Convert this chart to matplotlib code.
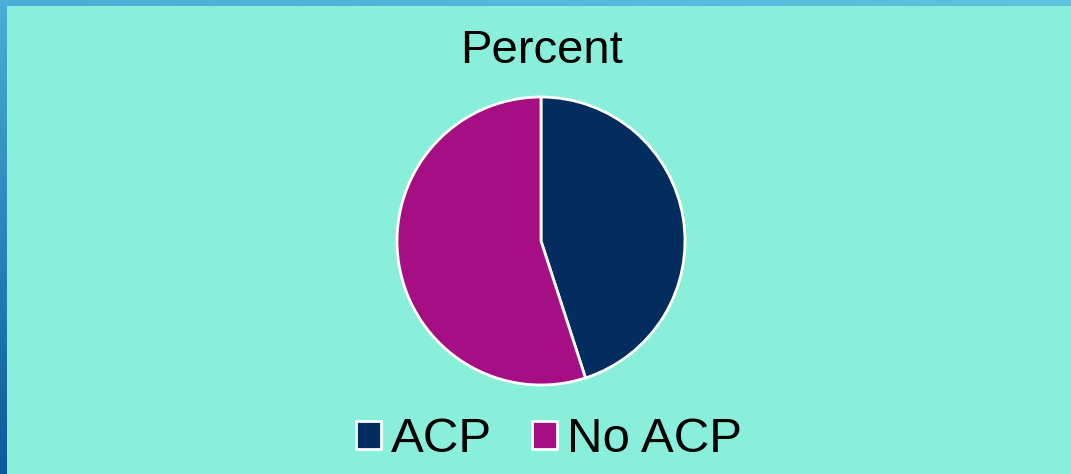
import numpy as np
import matplotlib
matplotlib.use("Agg")
import matplotlib.pyplot as plt
from matplotlib.patches import Patch, Rectangle

# Share of patients with / without an advance care plan
categories = ["ACP", "No ACP"]
percent = [45, 55]
colors = ["#042D5F", "#A50F83"]
title = "Percent"

W, H = 1071, 474
DPI = 100
plt.rcParams["font.family"] = ["Liberation Sans", "DejaVu Sans"]

fig = plt.figure(figsize=(W / DPI, H / DPI), dpi=DPI)

# Blue gradient frame behind the panel
bg = fig.add_axes([0, 0, 1, 1])
yy, xx = np.mgrid[0:1:200j, 0:1:400j]
top = np.array([0x4A, 0xAE, 0xD6]) / 255
top_r = np.array([0x5C, 0xC4, 0xE2]) / 255
bot = np.array([0x0B, 0x5A, 0x9A]) / 255
t = yy[..., None]
s = xx[..., None]
row_top = top * (1 - s) + top_r * s
grad = row_top * (1 - t) + bot * t
bg.imshow(grad, extent=[0, 1, 0, 1], aspect="auto", origin="upper")
bg.add_patch(Rectangle((7 / W, 0), 1 - 7 / W, 1 - 6 / H,
                       facecolor="#89EFDB", edgecolor="none"))
bg.set_xlim(0, 1)
bg.set_ylim(0, 1)
bg.axis("off")

# Pie
cx, cy, r = 541, 241, 144
ax = fig.add_axes([(cx - r) / W, (H - cy - r) / H, 2 * r / W, 2 * r / H])
ax.pie(percent, colors=colors, startangle=90, counterclock=False,
       wedgeprops=dict(edgecolor="white", linewidth=2))
ax.set_xlim(-1.0, 1.0)
ax.set_ylim(-1.0, 1.0)
ax.axis("off")

fig.text(cx / W, (H - 63) / H, title, ha="center", va="baseline",
         fontsize=34, color="black")

handles = [Patch(facecolor=c, edgecolor="white", linewidth=2) for c in colors]
fig.legend(handles, categories, loc="center", ncol=2, frameon=False,
           fontsize=35.5, bbox_to_anchor=(549 / W, (H - 440) / H),
           handlelength=0.52, handleheight=0.52, handletextpad=0.2,
           columnspacing=0.8, borderpad=0, borderaxespad=0)

fig.savefig("out.png", dpi=DPI)
